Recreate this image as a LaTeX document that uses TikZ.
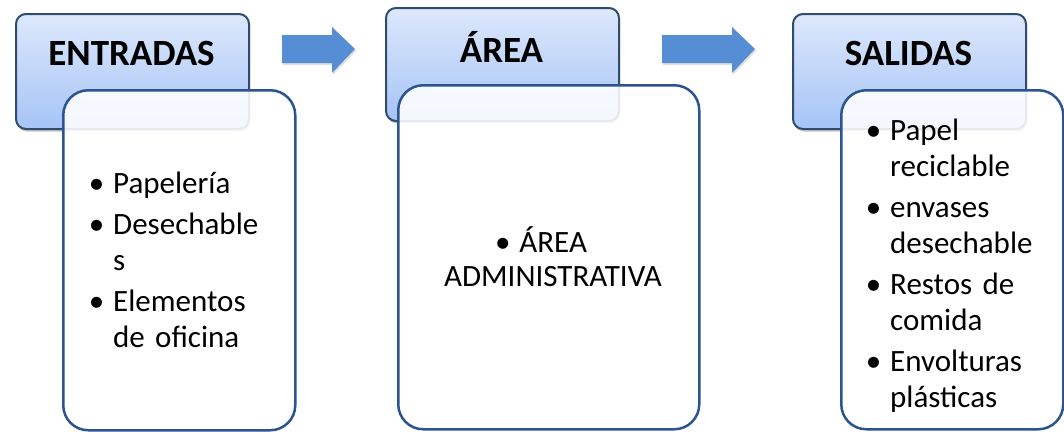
\documentclass[tikz,border=0pt]{standalone}
\usepackage{fontspec}
\setmainfont{Carlito}
\usetikzlibrary{shadows}

\definecolor{headtop}{HTML}{DDE8FC}
\definecolor{headbot}{HTML}{A6C4F6}
\definecolor{headline}{HTML}{2F4B6E}
\definecolor{boxline}{HTML}{2C5590}
\definecolor{arrowblue}{HTML}{558ED5}

% bullet hung to the left of the text margin
\newcommand\bul{\leavevmode\llap{\textbullet\hspace{9pt}}}

\tikzset{
  header/.style={draw=headline, line width=2pt, rounded corners=10pt,
    top color=headtop, bottom color=headbot, inner sep=0pt,
    minimum width=233pt, anchor=north west,
    drop shadow={shadow xshift=1pt, shadow yshift=-2.5pt, opacity=0.45}},
  headtext/.style={anchor=base, inner sep=0pt,
    font=\fontsize{37}{40}\selectfont\bfseries},
  content/.style={draw=boxline, line width=2.5pt, rounded corners=25pt,
    fill=white, fill opacity=0.88, inner sep=0pt, anchor=north west},
  bodytext/.style={anchor=base west, inner sep=0pt, align=left,
    text width=#1, font=\fontsize{31}{36}\selectfont},
  blockarrow/.style={fill=arrowblue,
    drop shadow={shadow xshift=1pt, shadow yshift=-2pt, opacity=0.25}}
}

\begin{document}
\begin{tikzpicture}[x=1pt, y=-1pt]
\useasboundingbox (0,0) rectangle (1064,431);
\fill[white] (0,0) rectangle (1064,431);

% title boxes
\node[header, minimum height=115pt] (h1) at (15,13) {};
\node[header, minimum height=113pt] (h2) at (385,7) {};
\node[header, minimum height=115pt] (h3) at (792,13) {};

\node[headtext] (h1t) at (131.5,65) {ENTRADAS};
\node[headtext] (h2t) at (501.5,62) {ÁREA};
\node[headtext] (h3t) at (908.5,65) {SALIDAS};

% block arrows between the stages
\fill[blockarrow] (282,35) -- (332,35) -- (332,27) -- (355,49)
  -- (332,73) -- (332,63) -- (282,63) -- cycle;
\fill[blockarrow] (662,35) -- (732,35) -- (732,27) -- (755,49)
  -- (732,73) -- (732,63) -- (662,63) -- cycle;

% content boxes overlapping the title boxes
\node[content, minimum width=232pt, minimum height=340pt] (b1) at (62,89) {};
\node[content, minimum width=301pt, minimum height=344pt] (b2) at (397,84) {};
\node[content, minimum width=222pt, minimum height=339pt] (b3) at (840,89) {};

\node[bodytext=175pt] (b1t) at (113,193) {%
  \bul Papelería\\[5pt]
  \bul Desechable\\
  s\\[5pt]
  \bul Elementos\\
  de oficina};

% the base of this node is its last line
\node[anchor=base, inner sep=0pt, align=center,
  font=\fontsize{31}{34}\selectfont] (b2t) at (553,286) {%
  \textbullet\hspace{9pt}ÁREA\hspace*{24pt}\\
  ADMINISTRATIVA};

\node[bodytext=170pt] (b3t) at (890,140) {%
  \bul Papel\\
  reciclable\\[5pt]
  \bul envases\\
  desechable\\[5pt]
  \bul Restos de\\
  comida\\[5pt]
  \bul Envolturas\\
  plásticas};
\end{tikzpicture}
\end{document}
